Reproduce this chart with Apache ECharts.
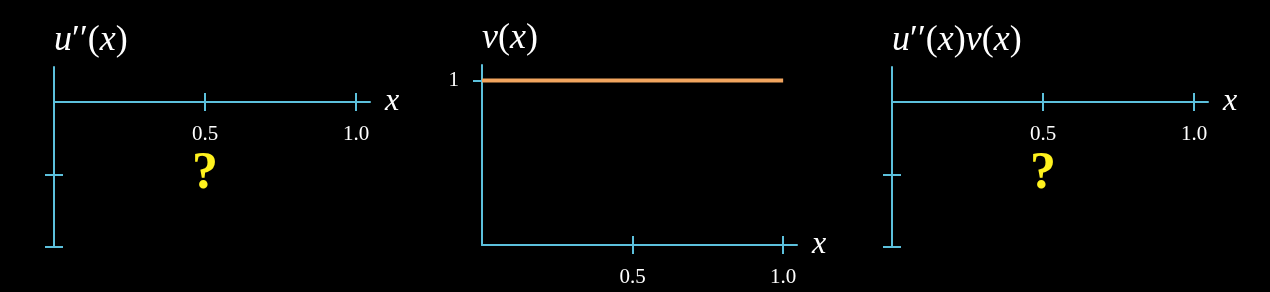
<!DOCTYPE html>
<html>
<head>
<meta charset="utf-8">
<script src="https://cdn.jsdelivr.net/npm/echarts@6/dist/echarts.min.js"></script>
<style>
html,body{margin:0;padding:0;background:#000;}
#c{width:1270px;height:292px;}
</style>
</head>
<body>
<div id="c"></div>
<script>
// ---- data ----
const xTicks = [0.5, 1.0];
const xTickLabels = ['0.5', '1.0'];
const uppYTicks = [-1, -2];
const vYTicks = [1];
const vYTickLabels = ['1'];
const vX = [0, 1.0];
const vY = [1, 1];
const qX = [0.5];
const qY = [-1];

// ---- style ----
const BLUE = '#5CC0DC';
const ORANGE = '#F2A55F';
const YELLOW = '#FFF21E';
const SERIF = '"Liberation Serif", "DejaVu Serif", serif';

const titleRich = {
  i: {fontFamily: SERIF, fontStyle: 'italic', fontSize: 36, color: '#fff'},
  r: {fontFamily: SERIF, fontSize: 36, color: '#fff'}
};
const richTitles = [
  '{i|u}{r|′′(}{i|x}{r|)}',
  '{i|v}{r|(}{i|x}{r|)}',
  '{i|u}{r|′′(}{i|x}{r|)}{i|v}{r|(}{i|x}{r|)}'
];

const grids = [
  {left: 54, top: 67, width: 316, height: 180},
  {left: 482, top: 65, width: 315, height: 180},
  {left: 892, top: 67, width: 316, height: 180}
];
const xMax = 1.046;
const yRanges = [[-2, 0.483], [0, 1.095], [-2, 0.483]];

const xAxes = [], yAxes = [];
grids.forEach((g, gi) => {
  const [ymin, ymax] = yRanges[gi];
  // place the x axis at y = 0 (pixel offset derived from the axis range)
  const zeroOffset = -g.height * (Math.max(0, 0 - ymin) / (ymax - ymin));
  ['inside', 'outside'].forEach((dir, k) => {
    xAxes.push({
      type: 'value', gridIndex: gi, min: 0, max: xMax, position: 'bottom',
      offset: zeroOffset,
      splitLine: {show: false},
      axisLine: {show: k === 0, onZero: false, lineStyle: {color: BLUE, width: 2}},
      axisTick: {show: true, inside: dir === 'inside', length: 9, customValues: xTicks,
                 lineStyle: {color: BLUE, width: 2}},
      axisLabel: {show: k === 0, customValues: xTicks, margin: 22,
                  formatter: v => xTickLabels[xTicks.indexOf(v)] ?? '',
                  color: '#fff', fontFamily: SERIF, fontSize: 21},
      name: k === 0 ? 'x' : '', nameLocation: 'end', nameGap: 15,
      nameTextStyle: {color: '#fff', fontFamily: SERIF, fontStyle: 'italic', fontSize: 32,
                      verticalAlign: 'middle', padding: [0, 0, 8, 0]}
    });
    const yt = gi === 1 ? vYTicks : uppYTicks;
    yAxes.push({
      type: 'value', gridIndex: gi, min: ymin, max: ymax, position: 'left',
      splitLine: {show: false},
      axisLine: {show: k === 0, onZero: false, lineStyle: {color: BLUE, width: 2}},
      axisTick: {show: true, inside: dir === 'inside', length: 9, customValues: yt,
                 lineStyle: {color: BLUE, width: 2}},
      axisLabel: {show: k === 0 && gi === 1, customValues: vYTicks, margin: 23,
                  formatter: v => vYTickLabels[vYTicks.indexOf(v)] ?? '',
                  color: '#fff', fontFamily: SERIF, fontSize: 21},
      name: k === 0 ? richTitles[gi] : '', nameLocation: 'end', nameGap: 8,
      nameTextStyle: {align: 'left', verticalAlign: 'bottom', rich: titleRich}
    });
  });
});

const qLabel = {show: true, position: 'inside', formatter: '?', color: YELLOW,
                fontFamily: SERIF, fontSize: 52, fontWeight: 'bold'};
const series = [
  {
    type: 'line', xAxisIndex: 2, yAxisIndex: 2,
    data: vX.map((x, i) => [x, vY[i]]),
    symbol: 'none', lineStyle: {color: ORANGE, width: 4}, z: 1
  },
  {
    type: 'scatter', xAxisIndex: 0, yAxisIndex: 0,
    data: qX.map((x, i) => [x, qY[i]]), symbolSize: 0,
    itemStyle: {opacity: 1}, label: qLabel
  },
  {
    type: 'scatter', xAxisIndex: 4, yAxisIndex: 4,
    data: qX.map((x, i) => [x, qY[i]]), symbolSize: 0,
    itemStyle: {opacity: 1}, label: qLabel
  }
];

const chart = echarts.init(document.getElementById('c'), null, {renderer: 'canvas'});
chart.setOption({
  backgroundColor: '#000',
  animation: false,
  grid: grids,
  xAxis: xAxes,
  yAxis: yAxes,
  series: series
});
</script>
</body>
</html>
